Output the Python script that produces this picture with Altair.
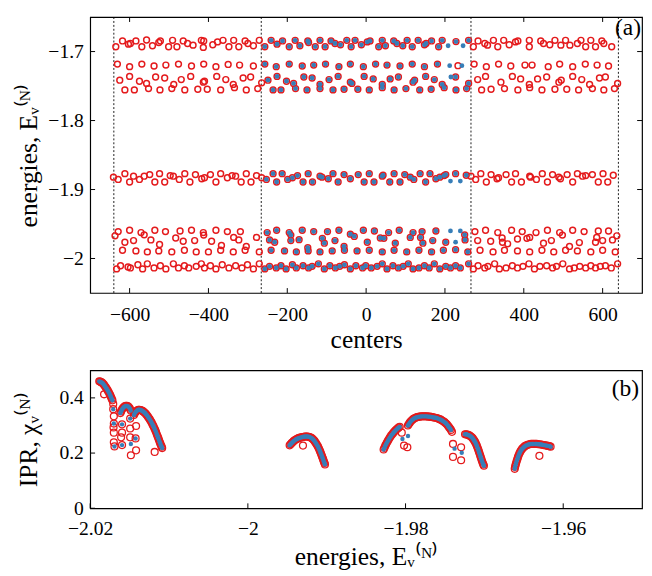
import altair as alt
import pandas as pd

RED = "#e41a1c"
BLUE = "#377eb8"
FONT = "Liberation Serif"

# ---------------- panel (a): centers vs energies ----------------
band_top = [(-635,-1.6930),(-618,-1.6846),(-603,-1.6893),(-598,-1.6883),(-584,-1.6846),(-569,-1.6930),(-557,-1.6832),
            (-542,-1.6916),(-526,-1.6869),(-522,-1.6846),(-501,-1.6930),(-491,-1.6837),(-480,-1.6930),(-464,-1.6846),
            (-453,-1.6883),(-439,-1.6907),(-418,-1.6837),(-412,-1.6846),(-413,-1.6940),(-389,-1.6902),(-377,-1.6860),
            (-363,-1.6837),(-348,-1.6930),(-336,-1.6837),(-323,-1.6930),(-307,-1.6846),(-300,-1.6883),(-286,-1.6916),
            (-271,-1.6837),(-257,-1.6930),(-241,-1.6837),(-226,-1.6893),(-212,-1.6846),(-195,-1.6930),(-180,-1.6837),
            (-168,-1.6916),(-148,-1.6846),(-146,-1.6869),(-129,-1.6930),(-117,-1.6837),(-104,-1.6930),(-89,-1.6846),
            (-79,-1.6883),(-65,-1.6902),(-49,-1.6837),(-38,-1.6930),(-28,-1.6837),(-12,-1.6902),(3,-1.6860),(10,-1.6846),
            (32,-1.6930),(41,-1.6837),(49,-1.6916),(70,-1.6846),(78,-1.6883),(93,-1.6916),(104,-1.6837),(117,-1.6930),
            (132,-1.6837),(148,-1.6902),(152,-1.6883),(166,-1.6846),(184,-1.6930),(193,-1.6837),(228,-1.6855),
            (260,-1.6837),(272,-1.6930),(284,-1.6846),(301,-1.6883),(308,-1.6907),(323,-1.6837),(334,-1.6930),
            (349,-1.6837),(363,-1.6902),(379,-1.6860),(385,-1.6846),(414,-1.6837),(414,-1.6930),(443,-1.6846),
            (450,-1.6883),(466,-1.6902),(479,-1.6837),(494,-1.6907),(506,-1.6837),(517,-1.6907),(536,-1.6883),
            (545,-1.6837),(557,-1.6930),(570,-1.6837),(582,-1.6930),(598,-1.6846),(603,-1.6883),(623,-1.6930)]

band_row2 = [(-631,-1.7182),(-600,-1.7219),(-569,-1.7182),(-538,-1.7210),(-508,-1.7196),(-476,-1.7182),(-443,-1.7210),
             (-412,-1.7182),(-381,-1.7219),(-350,-1.7187),(-321,-1.7196),(-286,-1.7210),(-257,-1.7182),(-228,-1.7219),
             (-195,-1.7182),(-162,-1.7210),(-133,-1.7196),(-103,-1.7182),(-69,-1.7219),(-40,-1.7182),(-7,-1.7219),
             (24,-1.7182),(53,-1.7196),(86,-1.7210),(117,-1.7182),(148,-1.7219),(181,-1.7182),(274,-1.7182),
             (305,-1.7219),(336,-1.7182),(367,-1.7210),(403,-1.7196),(421,-1.7196),(462,-1.7219),(491,-1.7182),
             (524,-1.7219),(556,-1.7182),(586,-1.7196),(615,-1.7210)]

band_row3 = [(-625,-1.7415),(-600,-1.7360),(-575,-1.7430),(-557,-1.7462),(-534,-1.7369),(-511,-1.7383),(-488,-1.7476),
             (-469,-1.7406),(-445,-1.7360),(-413,-1.7444),(-410,-1.7430),(-379,-1.7360),(-356,-1.7406),(-337,-1.7476),
             (-312,-1.7383),(-293,-1.7369),(-265,-1.7453),(-249,-1.7415),(-226,-1.7360),(-202,-1.7430),(-184,-1.7462),
             (-158,-1.7369),(-137,-1.7383),(-117,-1.7476),(-94,-1.7406),(-71,-1.7360),(-40,-1.7444),(-36,-1.7462),
             (-5,-1.7360),(18,-1.7397),(41,-1.7476),(61,-1.7397),(82,-1.7369),(119,-1.7444),(123,-1.7415),(151,-1.7360),
             (173,-1.7406),(193,-1.7476),(227,-1.7369),(260,-1.7462),(283,-1.7406),(303,-1.7360),(342,-1.7444),
             (371,-1.7360),(392,-1.7397),(414,-1.7476),(435,-1.7397),(458,-1.7369),(489,-1.7444),(495,-1.7415),
             (524,-1.7360),(547,-1.7406),(567,-1.7476),(592,-1.7383),(607,-1.7369),(638,-1.7462)]

band_row4 = [(-612,-1.7556),(-588,-1.7556),(-552,-1.7537),(-523,-1.7556),(-493,-1.7537),(-460,-1.7556),(-427,-1.7546),
             (-403,-1.7546),(-369,-1.7556),(-334,-1.7523),(-304,-1.7556),(-275,-1.7537),(-236,-1.7556),(-216,-1.7556),
             (-179,-1.7537),(-150,-1.7556),(-117,-1.7537),(-84,-1.7556),(-56,-1.7546),(-21,-1.7546),(8,-1.7556),
             (41,-1.7523),(71,-1.7556),(101,-1.7537),(136,-1.7556),(165,-1.7546),(198,-1.7523),(228,-1.7556),
             (255,-1.7537),(293,-1.7556),(317,-1.7546),(351,-1.7537),(385,-1.7556),(415,-1.7523),(446,-1.7556),
             (479,-1.7546),(509,-1.7546),(539,-1.7556),(574,-1.7537),(603,-1.7556),(630,-1.7537)]

band_mid = [(-641,-1.8821),(-629,-1.8854),(-612,-1.8770),(-600,-1.8891),(-590,-1.8807),(-575,-1.8854),(-563,-1.8807),
            (-549,-1.8784),(-536,-1.8891),(-524,-1.8770),(-511,-1.8891),(-497,-1.8798),(-489,-1.8807),(-474,-1.8854),
            (-460,-1.8770),(-447,-1.8891),(-433,-1.8784),(-417,-1.8844),(-410,-1.8830),(-395,-1.8784),(-381,-1.8891),
            (-369,-1.8770),(-352,-1.8830),(-340,-1.8798),(-331,-1.8807),(-317,-1.8891),(-304,-1.8770),(-292,-1.8891),
            (-278,-1.8798),(-265,-1.8830),(-253,-1.8854),(-236,-1.8770),(-227,-1.8891),(-213,-1.8770),(-199,-1.8854),
            (-187,-1.8830),(-174,-1.8798),(-160,-1.8891),(-147,-1.8770),(-136,-1.8891),(-117,-1.8807),(-112,-1.8821),
            (-96,-1.8844),(-84,-1.8770),(-71,-1.8891),(-56,-1.8784),(-40,-1.8844),(-20,-1.8784),(-5,-1.8891),
            (8,-1.8770),(20,-1.8891),(41,-1.8807),(43,-1.8793),(60,-1.8891),(71,-1.8770),(86,-1.8891),(98,-1.8784),
            (112,-1.8821),(121,-1.8854),(137,-1.8770),(151,-1.8891),(162,-1.8770),(177,-1.8844),(187,-1.8821),
            (198,-1.8798),(202,-1.8784),(227,-1.8770),(254,-1.8793),(266,-1.8807),(278,-1.8854),(291,-1.8770),
            (305,-1.8891),(317,-1.8784),(332,-1.8844),(336,-1.8830),(355,-1.8784),(369,-1.8891),(379,-1.8770),
            (394,-1.8891),(415,-1.8807),(417,-1.8821),(432,-1.8854),(447,-1.8770),(460,-1.8891),(473,-1.8784),
            (489,-1.8821),(493,-1.8844),(510,-1.8784),(524,-1.8891),(536,-1.8770),(549,-1.8807),(557,-1.8798),
            (574,-1.8784),(589,-1.8891),(601,-1.8770),(613,-1.8891),(627,-1.8793)]

band_lowA = [(-629,-1.9610),(-600,-1.9591),(-571,-1.9624),(-536,-1.9591),(-509,-1.9610),(-472,-1.9601),(-443,-1.9591),
             (-413,-1.9624),(-381,-1.9591),(-352,-1.9610),(-319,-1.9610),(-251,-1.9624),(-227,-1.9591),(-195,-1.9624),
             (-162,-1.9591),(-133,-1.9610),(-98,-1.9610),(-69,-1.9591),(-40,-1.9647),(-7,-1.9591),(21,-1.9601),
             (57,-1.9624),(84,-1.9591),(119,-1.9624),(142,-1.9610),(177,-1.9601),(276,-1.9610),(303,-1.9591),
             (334,-1.9624),(369,-1.9591),(396,-1.9610),(431,-1.9624),(460,-1.9591),(491,-1.9624),(524,-1.9591),
             (553,-1.9610),(589,-1.9601),(615,-1.9601)]

band_lowA2 = [(-637,-1.9671),(-563,-1.9657),(-412,-1.9661),(-336,-1.9694),(-278,-1.9694),(-191,-1.9661),
              (-30,-1.9680),(138,-1.9694),(250,-1.9657),(345,-1.9703),(498,-1.9661),(585,-1.9694),(636,-1.9671)]

band_lowB = [(-612,-1.9764),(-590,-1.9740),(-546,-1.9731),(-524,-1.9797),(-483,-1.9703),(-464,-1.9750),(-435,-1.9740),
             (-392,-1.9750),(-367,-1.9811),(-323,-1.9731),(-304,-1.9825),(-245,-1.9731),(-232,-1.9764),(-191,-1.9740),
             (-170,-1.9727),(-148,-1.9843),(-111,-1.9708),(-106,-1.9778),(-79,-1.9740),(-56,-1.9825),(3,-1.9764),
             (36,-1.9703),(45,-1.9708),(74,-1.9778),(112,-1.9694),(144,-1.9778),(169,-1.9740),(202,-1.9764),
             (251,-1.9731),(283,-1.9740),(316,-1.9750),(346,-1.9764),(359,-1.9787),(384,-1.9717),(408,-1.9708),
             (415,-1.9694),(450,-1.9778),(470,-1.9740),(516,-1.9825),(541,-1.9769),(582,-1.9764),(600,-1.9740),
             (625,-1.9731)]

band_lowC = [(-618,-1.9881),(-584,-1.9890),(-555,-1.9904),(-526,-1.9890),(-493,-1.9904),(-461,-1.9881),(-431,-1.9904),
             (-400,-1.9904),(-369,-1.9881),(-337,-1.9904),(-307,-1.9881),(-271,-1.9904),(-241,-1.9881),(-207,-1.9890),
             (-177,-1.9904),(-147,-1.9890),(-117,-1.9904),(-86,-1.9890),(-55,-1.9881),(-23,-1.9890),(8,-1.9881),
             (41,-1.9904),(71,-1.9881),(103,-1.9904),(134,-1.9881),(166,-1.9904),(196,-1.9881),(227,-1.9872),
             (258,-1.9904),(289,-1.9881),(322,-1.9904),(351,-1.9881),(384,-1.9890),(415,-1.9904),(446,-1.9881),
             (476,-1.9904),(506,-1.9881),(536,-1.9890),(570,-1.9904),(600,-1.9881),(632,-1.9904)]

band_lowD = [(-633,-2.0151),(-623,-2.0105),(-604,-2.0123),(-598,-2.0137),(-579,-2.0091),(-567,-2.0151),(-555,-2.0077),
             (-538,-2.0137),(-522,-2.0105),(-508,-2.0151),(-489,-2.0077),(-476,-2.0137),(-461,-2.0105),(-450,-2.0137),
             (-431,-2.0114),(-418,-2.0077),(-410,-2.0137),(-395,-2.0105),(-381,-2.0151),(-365,-2.0091),(-348,-2.0137),
             (-331,-2.0105),(-315,-2.0137),(-301,-2.0091),(-286,-2.0151),(-271,-2.0077),(-257,-2.0151),(-245,-2.0114),
             (-228,-2.0137),(-216,-2.0105),(-203,-2.0151),(-187,-2.0091),(-177,-2.0137),(-160,-2.0105),(-146,-2.0137),
             (-137,-2.0114),(-121,-2.0077),(-106,-2.0151),(-92,-2.0105),(-78,-2.0137),(-67,-2.0114),(-55,-2.0091),
             (-40,-2.0151),(-26,-2.0105),(-9,-2.0137),(-1,-2.0105),(13,-2.0137),(28,-2.0114),(41,-2.0077),(53,-2.0151),
             (68,-2.0105),(82,-2.0137),(94,-2.0114),(107,-2.0077),(119,-2.0151),(134,-2.0137),(148,-2.0105),
             (160,-2.0137),(173,-2.0077),(187,-2.0151),(202,-2.0114),(214,-2.0137),(227,-2.0105),(239,-2.0137),
             (260,-2.0077),(272,-2.0151),(284,-2.0105),(301,-2.0137),(309,-2.0114),(326,-2.0077),(338,-2.0151),
             (355,-2.0137),(371,-2.0105),(384,-2.0137),(398,-2.0114),(413,-2.0077),(427,-2.0151),(441,-2.0114),
             (458,-2.0105),(473,-2.0137),(483,-2.0114),(499,-2.0077),(516,-2.0151),(528,-2.0137),(542,-2.0114),
             (557,-2.0137),(570,-2.0105),(582,-2.0137),(594,-2.0114),(607,-2.0105),(622,-2.0137),(638,-2.0077)]

red_only_a = [(233,-1.7205)]
blue_only_a = [(208,-1.6916),(246,-1.6916),(212,-1.7205),(243,-1.7205),(215,-1.7369),(214,-1.8877),
               (239,-1.8877),(214,-1.9601),(239,-1.9601),(227,-1.9764)]

dashed_centers = [-640, -266, 266, 640]
xticks_a = [-600, -400, -200, 0, 200, 400, 600]
yticks_a = [-2.0, -1.9, -1.8, -1.7]

# ---------------- panel (b): IPR vs energies ----------------
arc_1a = [(-2.01885,0.460),(-2.01874,0.459),(-2.01862,0.457),(-2.01850,0.455),(-2.01838,0.452),(-2.01826,0.448),
          (-2.01814,0.443),(-2.01802,0.438),(-2.01790,0.433),(-2.01778,0.427),(-2.01766,0.421),(-2.01755,0.415),
          (-2.01745,0.409),(-2.01736,0.403),(-2.01727,0.397),(-2.01718,0.391)]
arc_1b = [(-2.01617,0.345),(-2.01608,0.351),(-2.01598,0.357),(-2.01587,0.362),(-2.01575,0.366),(-2.01562,0.369),
          (-2.01548,0.371),(-2.01534,0.371),(-2.01520,0.369),(-2.01508,0.366),(-2.01496,0.361),(-2.01485,0.354)]
arc_1c = [(-2.01445,0.338),(-2.01435,0.344),(-2.01424,0.349),(-2.01412,0.352),(-2.01400,0.355),(-2.01388,0.357),
          (-2.01376,0.357),(-2.01364,0.356),(-2.01352,0.355),(-2.01340,0.353),(-2.01328,0.351),(-2.01316,0.348),
          (-2.01304,0.345),(-2.01292,0.341),(-2.01280,0.337),(-2.01268,0.332),(-2.01256,0.327),(-2.01244,0.322),
          (-2.01232,0.316),(-2.01220,0.310),(-2.01208,0.303),(-2.01197,0.297),(-2.01186,0.290),(-2.01175,0.283),
          (-2.01165,0.276),(-2.01155,0.268),(-2.01145,0.261),(-2.01136,0.254),(-2.01127,0.247),(-2.01118,0.240),
          (-2.01110,0.234),(-2.01102,0.228),(-2.01094,0.223),(-2.01087,0.218)]
arc_2 = [(-1.99470,0.228),(-1.99458,0.232),(-1.99446,0.236),(-1.99433,0.239),(-1.99420,0.243),(-1.99406,0.246),
         (-1.99392,0.249),(-1.99378,0.251),(-1.99364,0.253),(-1.99350,0.255),(-1.99335,0.256),(-1.99320,0.257),
         (-1.99305,0.258),(-1.99290,0.259),(-1.99275,0.260),(-1.99260,0.260),(-1.99245,0.260),(-1.99231,0.259),
         (-1.99217,0.258),(-1.99203,0.256),(-1.99190,0.254),(-1.99177,0.251),(-1.99165,0.247),(-1.99153,0.243),
         (-1.99142,0.238),(-1.99131,0.233),(-1.99120,0.228),(-1.99110,0.223),(-1.99100,0.217),(-1.99091,0.211),
         (-1.99082,0.205),(-1.99074,0.199),(-1.99066,0.193),(-1.99058,0.187),(-1.99050,0.181),(-1.99043,0.175),
         (-1.99036,0.169),(-1.99029,0.164),(-1.99022,0.159)]
arc_3a = [(-1.98278,0.213),(-1.98268,0.219),(-1.98258,0.226),(-1.98247,0.232),(-1.98236,0.238),(-1.98224,0.244),
          (-1.98212,0.250),(-1.98199,0.256),(-1.98186,0.262),(-1.98172,0.267),(-1.98158,0.272),(-1.98144,0.277),
          (-1.98130,0.281),(-1.98116,0.285),(-1.98102,0.289),(-1.98088,0.292),(-1.98074,0.295)]
arc_3b = [(-1.97970,0.300),(-1.97958,0.305),(-1.97946,0.310),(-1.97933,0.315),(-1.97919,0.319),(-1.97904,0.323),
          (-1.97888,0.326),(-1.97872,0.328),(-1.97855,0.330),(-1.97838,0.331),(-1.97820,0.332),(-1.97802,0.333),
          (-1.97784,0.333),(-1.97766,0.333),(-1.97748,0.333),(-1.97730,0.333),(-1.97712,0.332),(-1.97694,0.332),
          (-1.97676,0.331),(-1.97658,0.330),(-1.97640,0.329),(-1.97622,0.328),(-1.97604,0.327),(-1.97587,0.325),
          (-1.97570,0.323),(-1.97553,0.321),(-1.97537,0.318),(-1.97521,0.315),(-1.97505,0.312),(-1.97490,0.308),
          (-1.97476,0.304),(-1.97462,0.299),(-1.97449,0.294),(-1.97436,0.289),(-1.97424,0.284)]
arc_3d = [(-1.97245,0.268),(-1.97230,0.268),(-1.97215,0.267),(-1.97200,0.265),(-1.97186,0.263),(-1.97172,0.260),
          (-1.97159,0.257),(-1.97147,0.253),(-1.97135,0.248),(-1.97124,0.243),(-1.97114,0.238),(-1.97104,0.232),
          (-1.97095,0.226),(-1.97086,0.219),(-1.97078,0.213),(-1.97070,0.206),(-1.97062,0.199),(-1.97054,0.192),
          (-1.97046,0.185),(-1.97038,0.178),(-1.97030,0.171),(-1.97022,0.165),(-1.97014,0.159),(-1.97006,0.154)]
arc_4 = [(-1.96615,0.143),(-1.96610,0.150),(-1.96604,0.157),(-1.96597,0.164),(-1.96590,0.171),(-1.96582,0.178),
         (-1.96574,0.185),(-1.96565,0.192),(-1.96555,0.199),(-1.96544,0.205),(-1.96532,0.211),(-1.96519,0.216),
         (-1.96505,0.220),(-1.96490,0.224),(-1.96474,0.227),(-1.96458,0.229),(-1.96442,0.231),(-1.96425,0.232),
         (-1.96408,0.233),(-1.96390,0.233),(-1.96372,0.233),(-1.96354,0.233),(-1.96336,0.233),(-1.96318,0.232),
         (-1.96300,0.232),(-1.96282,0.231),(-1.96264,0.230),(-1.96246,0.229),(-1.96228,0.228),(-1.96210,0.227),
         (-1.96193,0.226),(-1.96176,0.225),(-1.96160,0.223)]
scatter_both_b = [(-2.01708,0.359),(-2.01700,0.307),(-2.01692,0.224),(-2.01596,0.304),(-2.01596,0.229),
                  (-2.01493,0.325),(-2.01424,0.253)]
red_only_b = [(-2.01824,0.413),(-2.01708,0.378),(-2.01700,0.333),(-2.01704,0.293),(-2.01700,0.274),(-2.01700,0.239),
              (-2.01596,0.274),(-2.01608,0.257),(-2.01493,0.289),(-2.01493,0.257),(-2.01484,0.192),(-2.01418,0.298),
              (-2.01418,0.210),(-2.01182,0.204),(-1.99301,0.227),(-1.98048,0.274),(-1.98019,0.227),(-1.97977,0.221),
              (-1.97411,0.277),(-1.97398,0.233),(-1.97295,0.221),(-1.97398,0.186),(-1.97295,0.174),(-1.96302,0.190)]
blue_only_b = [(-2.01484,0.233),(-1.98039,0.251),(-1.97969,0.262),(-1.97378,0.216),(-1.97287,0.201)]

xticks_b = [-2.02, -2.0, -1.98, -1.96]
yticks_b = [0.0, 0.2, 0.4]

# ---------------- layout ----------------
W = 564
HA = 282
HB = 141
TICK = 5
LBL = 20
TTL = 26

rows_a = (band_top + band_row2 + band_row3 + band_row4 + band_mid + band_lowA + band_lowA2
          + band_lowB + band_lowC + band_lowD)
df_red_a = pd.DataFrame(rows_a + red_only_a, columns=["x", "y"])
df_blue_a = pd.concat([pd.DataFrame(rows_a, columns=["x", "y"]).query("-262 < x < 262"),
                       pd.DataFrame(blue_only_a, columns=["x", "y"])])


def ax(**kw):
    return alt.Axis(ticks=False, domain=False, grid=False, labelFlush=False, labelOverlap=False,
                    labelFont=FONT, titleFont=FONT, labelFontSize=LBL, titleFontSize=TTL,
                    labelColor="black", titleColor="black", titleFontWeight="normal", **kw)


xs_a = alt.Scale(domain=[-700, 700], nice=False, zero=False)
ys_a = alt.Scale(domain=[-2.05, -1.65], nice=False, zero=False)
xa = alt.X("x:Q", scale=xs_a, axis=ax(values=xticks_a, format="d", labelPadding=12,
                                      title="centers", titlePadding=3))
ya = alt.Y("y:Q", scale=ys_a, axis=ax(values=yticks_a, format=".1~f", labelPadding=7,
                                      title="energies, Eᵥ⁽ᴺ⁾", titleX=-50))

dash_a = alt.Chart(pd.DataFrame({"x": dashed_centers})).mark_rule(
    color="black", strokeWidth=0.9, strokeDash=[2, 2]).encode(x=xa)
red_a = alt.Chart(df_red_a).mark_point(shape="circle", filled=False, color=RED, size=36,
                                       strokeWidth=1.5, opacity=1).encode(x=xa, y=ya)
blue_a = alt.Chart(df_blue_a).mark_circle(color=BLUE, size=24, opacity=1).encode(x=xa, y=ya)
xt_a = pd.DataFrame({"x": xticks_a})
yt_a = pd.DataFrame({"y": yticks_a})
tb_a = alt.Chart(xt_a).mark_rule(color="black", strokeWidth=1).encode(
    x=xa, y=alt.value(HA), y2=alt.value(HA - TICK))
tt_a = alt.Chart(xt_a).mark_rule(color="black", strokeWidth=1).encode(
    x=xa, y=alt.value(0), y2=alt.value(TICK))
tl_a = alt.Chart(yt_a).mark_rule(color="black", strokeWidth=1).encode(
    y=ya, x=alt.value(0), x2=alt.value(TICK))
tr_a = alt.Chart(yt_a).mark_rule(color="black", strokeWidth=1).encode(
    y=ya, x=alt.value(W), x2=alt.value(W - TICK))
lab_a = alt.Chart(pd.DataFrame({"t": ["(a)"]})).mark_text(
    align="right", baseline="middle", font=FONT, fontSize=24, color="black").encode(
    text="t:N", x=alt.value(W - 1), y=alt.value(11))

panel_a = alt.layer(dash_a, red_a, blue_a, tb_a, tt_a, tl_a, tr_a, lab_a).properties(width=W, height=HA)

arcs_b = arc_1a + arc_1b + arc_1c + arc_2 + arc_3a + arc_3b + arc_3d + arc_4 + scatter_both_b
df_red_b = pd.DataFrame(arcs_b + red_only_b, columns=["x", "y"])
df_blue_b = pd.DataFrame(arcs_b + blue_only_b, columns=["x", "y"])

xs_b = alt.Scale(domain=[-2.02, -1.95], nice=False, zero=False)
ys_b = alt.Scale(domain=[0, 0.5], nice=False, zero=False)
xb = alt.X("x:Q", scale=xs_b, axis=ax(values=xticks_b, format=".2~f", labelPadding=11,
                                      title="energies, Eᵥ⁽ᴺ⁾", titlePadding=6))
yb = alt.Y("y:Q", scale=ys_b, axis=ax(values=yticks_b, format=".1~f", labelPadding=7,
                                      title="IPR, χᵥ⁽ᴺ⁾", titleX=-50))

red_b = alt.Chart(df_red_b).mark_point(shape="circle", filled=False, color=RED, size=50,
                                       strokeWidth=1.3, opacity=1).encode(x=xb, y=yb)
blue_b = alt.Chart(df_blue_b).mark_circle(color=BLUE, size=20, opacity=1).encode(x=xb, y=yb)
xt_b = pd.DataFrame({"x": xticks_b})
yt_b = pd.DataFrame({"y": yticks_b})
tb_b = alt.Chart(xt_b).mark_rule(color="black", strokeWidth=1).encode(
    x=xb, y=alt.value(HB), y2=alt.value(HB - TICK))
tl_b = alt.Chart(yt_b).mark_rule(color="black", strokeWidth=1).encode(
    y=yb, x=alt.value(0), x2=alt.value(TICK))
lab_b = alt.Chart(pd.DataFrame({"t": ["(b)"]})).mark_text(
    align="right", baseline="middle", font=FONT, fontSize=24, color="black").encode(
    text="t:N", x=alt.value(W - 3), y=alt.value(19))

panel_b = alt.layer(red_b, blue_b, tb_b, tl_b, lab_b).properties(width=W, height=HB)

chart = alt.vconcat(panel_a, panel_b, spacing=16).properties(
    padding={"left": 7, "top": 1, "right": 0, "bottom": 0}
).configure_view(stroke="black", strokeWidth=1.2)

chart.save("out.html", embed_options={"renderer": "svg", "actions": False})
